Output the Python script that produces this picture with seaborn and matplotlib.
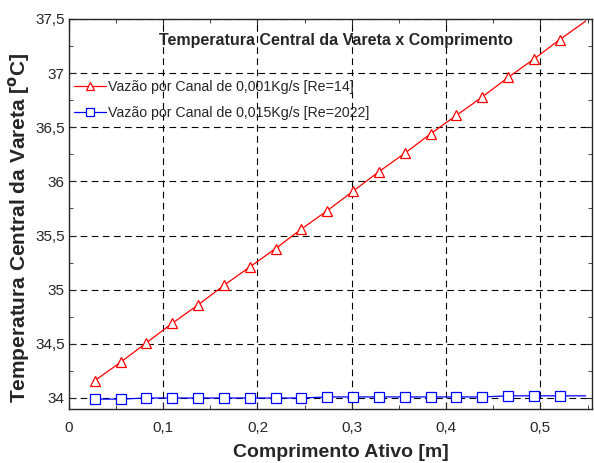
import numpy as np
import matplotlib
matplotlib.use("Agg")
import matplotlib.pyplot as plt
import seaborn as sns
from matplotlib.ticker import FuncFormatter, MultipleLocator

# data
comprimento = [0.0274, 0.0548, 0.0822, 0.1096, 0.1370, 0.1644, 0.1918, 0.2192, 0.2466, 0.2740,
               0.3014, 0.3288, 0.3562, 0.3836, 0.4110, 0.4384, 0.4658, 0.4932, 0.5206, 0.5480]
temp_re14 = [34.16, 34.33, 34.51, 34.69, 34.86, 35.04, 35.21, 35.38, 35.56, 35.73,
             35.91, 36.09, 36.26, 36.44, 36.61, 36.78, 36.96, 37.13, 37.31, 37.48]
temp_re2022 = [33.99, 33.99, 34.00, 34.00, 34.00, 34.00, 34.00, 34.00, 34.00, 34.01,
               34.01, 34.01, 34.01, 34.01, 34.01, 34.01, 34.02, 34.02, 34.02, 34.02]
label_re14 = "Vazão por Canal de 0,001Kg/s [Re=14]"
label_re2022 = "Vazão por Canal de 0,015Kg/s [Re=2022]"

sns.set_style("ticks")
plt.rcParams['font.family'] = ['Liberation Sans', 'DejaVu Sans']

fig = plt.figure(figsize=(5.94, 4.63), dpi=100)
ax = fig.add_axes([0.116, 0.117, 0.881, 0.842])

sns.lineplot(x=comprimento, y=temp_re14, ax=ax, color="red", lw=0.9,
             marker="^", markersize=7.5, markerfacecolor="white", markeredgecolor="red",
             markeredgewidth=0.9, markevery=slice(0, 19), label=label_re14)
sns.lineplot(x=comprimento, y=temp_re2022, ax=ax, color="blue", lw=0.9,
             marker="s", markersize=7.5, markerfacecolor="white", markeredgecolor="blue",
             markeredgewidth=0.9, markevery=slice(0, 19), label=label_re2022)

ax.set_xlim(0, 0.555)
ax.set_ylim(33.9, 37.5)
ax.xaxis.set_major_locator(MultipleLocator(0.1))
ax.xaxis.set_minor_locator(MultipleLocator(0.05))
ax.yaxis.set_major_locator(MultipleLocator(0.5))
ax.yaxis.set_minor_locator(MultipleLocator(0.25))
comma = FuncFormatter(lambda v, p: f"{v:g}".replace(".", ","))
ax.xaxis.set_major_formatter(comma)
ax.yaxis.set_major_formatter(comma)

ax.grid(True, which="major", color="black", linestyle=(0, (6, 4)), linewidth=0.8)
ax.tick_params(which="both", direction="in", top=True, right=True, labelsize=11)
ax.tick_params(axis="x", pad=9)
ax.tick_params(axis="y", pad=3)
ax.tick_params(which="major", length=5)
ax.tick_params(which="minor", length=3)
for s in ax.spines.values():
    s.set_linewidth(1.0)

ax.set_xlabel("Comprimento Ativo [m]", fontsize=14, fontweight="bold", labelpad=9)
ax.xaxis.set_label_coords(0.52, -0.09)
ax.set_ylabel(r"Temperatura Central da Vareta [$^{\mathbf{o}}$C]", fontsize=15,
              fontweight="bold", labelpad=2)
ax.yaxis.set_label_coords(-0.071, 0.465)
ax.text(0.51, 0.945, "Temperatura Central da Vareta x Comprimento", transform=ax.transAxes,
        ha="center", va="center", fontsize=11.5, fontweight="bold")

leg = ax.legend(loc="upper left", bbox_to_anchor=(-0.002, 0.859), frameon=False,
                fontsize=10.2, handlelength=2.3, handletextpad=0.15, labelspacing=0.9,
                borderaxespad=0, markerscale=0.8)

fig.savefig("out.png", dpi=100)
